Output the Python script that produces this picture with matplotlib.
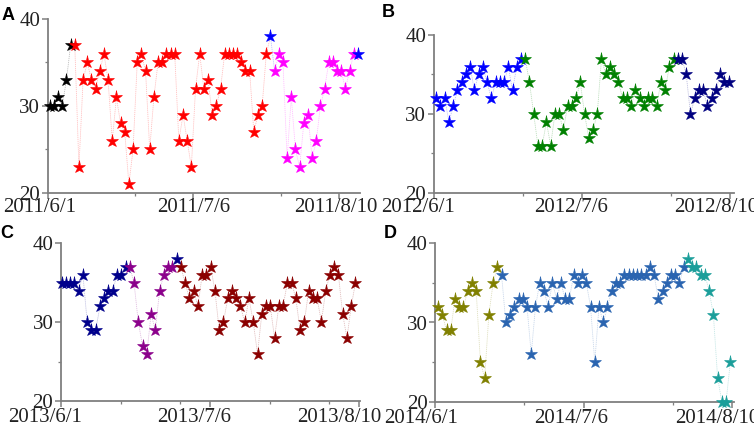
import matplotlib
matplotlib.use("Agg")
import matplotlib.pyplot as plt
import numpy as np

# ---------------- data ----------------
a_values = [30, 30, 31, 30, 33, 37,
            37, 23, 33, 35, 33, 32, 34, 36, 33, 26, 31, 28, 27, 21, 25, 35, 36, 34, 25, 31,
            35, 35, 36, 36, 36, 26, 29, 26, 23, 32, 36, 32, 33, 29, 30, 32, 36, 36, 36, 36,
            35, 34, 34, 27, 29, 30, 36,
            38,
            34, 36, 35, 24, 31, 25, 23, 28, 29, 24, 26, 30, 32, 35, 35, 34, 34, 32, 34, 36,
            36]
a_groups = [6, 47, 1, 20, 1]
a_ticklabels = ["2011/6/1", "2011/7/6", "2011/8/10"]

b_values = [32, 31, 32, 29, 31, 33, 34, 35, 36, 33, 35, 36, 34, 32, 34, 34, 34, 36, 33, 36, 37,
            37, 34, 30, 26, 26, 29, 26, 30, 30, 28, 31, 31, 32, 34, 30, 27, 28, 30, 37, 35,
            36, 35, 34, 32, 32, 31, 33, 32, 31, 32, 32, 31, 34, 33, 36, 37,
            37, 37, 35, 30, 32, 33, 33, 31, 32, 33, 35, 34, 34]
b_groups = [21, 36, 13]
b_ticklabels = ["2012/6/1", "2012/7/6", "2012/8/10"]

c_values = [35, 35, 35, 35, 34, 36, 30, 29, 29, 32, 33, 34, 34, 36, 36, 37,
            37, 35, 30, 27, 26, 31, 29, 34, 36, 37, 37,
            38,
            37, 35, 33, 34, 32, 36, 36, 37, 34, 29, 30, 33, 34, 33, 32, 30, 33, 30, 26, 31,
            32, 32, 28, 32, 32, 35, 35, 33, 29, 30, 34, 33, 33, 30, 34, 36, 37, 36, 31, 28,
            32, 35]
c_groups = [16, 11, 1, 42]
c_ticklabels = ["2013/6/1", "2013/7/6", "2013/8/10"]

d_values = [32, 31, 29, 29, 33, 32, 32, 34, 35, 34, 25, 23, 31, 35, 37,
            36, 30, 31, 32, 33, 33, 32, 26, 32, 35, 34, 32, 35, 33, 35, 33, 33, 36, 35, 36,
            35, 32, 25, 32, 30, 32, 34, 35, 35, 36, 36, 36, 36, 36, 36, 37, 36, 33, 34, 35,
            36, 36, 35, 37,
            38, 37, 37, 36, 36, 34, 31, 23, 20, 20, 25]
d_groups = [15, 44, 11]
d_ticklabels = ["2014/6/1", "2014/7/6", "2014/8/10"]

# ---------------- style / layout ----------------
W, H = 754, 423
fig = plt.figure(figsize=(W / 100, H / 100), dpi=100)

def frac(left, right, top, bottom):
    return [left / W, 1 - bottom / H, (right - left) / W, (bottom - top) / H]

panels = [
    dict(vals=a_values, groups=a_groups, labels=a_ticklabels,
         colors=["black", "#ff0000", "#0000ff", "#ff00ff", "#0000ff"],
         rect=frac(47.7, 360, 19, 193), xmax=75.0, off=0.5, minor=[21, 56],
         ldx=[-8, 0, -3], ldy=-19, letter="A", lpos=(2, 20)),
    dict(vals=b_values, groups=b_groups, labels=b_ticklabels,
         colors=["#0000ff", "#008000", "#000080"],
         rect=frac(433.7, 733.7, 35, 193), xmax=70.8, off=0.6, minor=[21, 56],
         ldx=[-16, -11, -14], ldy=-19, letter="B", lpos=(382, 17)),
    dict(vals=c_values, groups=c_groups, labels=c_ticklabels,
         colors=["#00008b", "#8b008b", "#00008b", "#8b0000"],
         rect=frac(61, 359.5, 243.3, 401), xmax=70.1, off=0.15, minor=[14, 28, 49, 63],
         ldx=[-16, -16, -20], ldy=-21, letter="C", lpos=(0, 238)),
    dict(vals=d_values, groups=d_groups, labels=d_ticklabels,
         colors=["#808000", "#2a64b0", "#1b9e9a"],
         rect=frac(435.3, 733.5, 243.3, 401.7), xmax=70.4, off=0.65, minor=[21, 56],
         ldx=[-14, -12, -15], ldy=-21, letter="D", lpos=(384, 238)),
]

spine_col = "#7f7f7f"
FS = 15
for p in panels:
    ax = fig.add_axes(p["rect"])
    vals = np.array(p["vals"], dtype=float)
    x = np.arange(len(vals)) + p["off"]
    start = 0
    for g, col in zip(p["groups"], p["colors"]):
        end = start + g
        e2 = min(end + 1, len(vals))
        ax.plot(x[start:e2], vals[start:e2], color=col, lw=0.6, alpha=0.25,
                linestyle=(0, (1.5, 1)), clip_on=False, zorder=1)
        ax.plot(x[start:end], vals[start:end], linestyle="none", marker="*",
                markersize=9.5, color=col, markeredgewidth=0.4, markeredgecolor=col,
                clip_on=False, zorder=3)
        start = end

    ax.set_xlim(0, p["xmax"])
    ax.set_ylim(20, 40)
    major = [0, 35, 70]
    ax.set_xticks(major)
    ax.set_xticklabels([])
    ax.set_xticks(p["minor"], minor=True)
    ax.set_yticks([20, 30, 40])
    ax.set_yticks([25, 35], minor=True)
    for s in ["top", "right"]:
        ax.spines[s].set_visible(False)
    for s in ["left", "bottom"]:
        ax.spines[s].set_color(spine_col)
        ax.spines[s].set_linewidth(1.3)
    ax.tick_params(which="major", direction="out", length=4, width=1.1, color=spine_col,
                   labelsize=FS, pad=1.5)
    ax.tick_params(which="minor", direction="out", length=2.5, width=0.9, color=spine_col)
    for lab in ax.get_yticklabels():
        lab.set_fontfamily("Liberation Serif")
        lab.set_color("#222222")
    for t, lab, dx in zip(major, p["labels"], p["ldx"]):
        ax.annotate(lab, xy=(t, 20), xycoords="data", xytext=(dx, p["ldy"]),
                    textcoords="offset pixels", ha="center", va="baseline",
                    fontsize=FS, family="Liberation Serif", color="#222222",
                    annotation_clip=False)
    ax.set_facecolor("none")
    fig.text(p["lpos"][0] / W, 1 - p["lpos"][1] / H, p["letter"], fontsize=13,
             fontweight="bold", family="Liberation Sans", va="baseline", ha="left")

fig.savefig("out.png", dpi=100)
